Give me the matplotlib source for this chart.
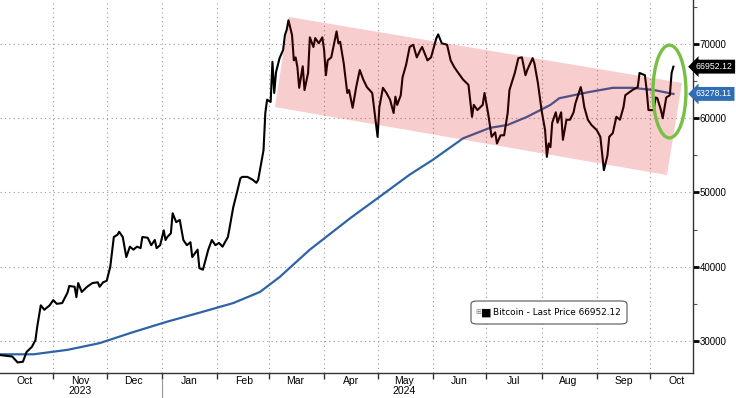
import matplotlib
matplotlib.use("Agg")
import matplotlib.pyplot as plt
import matplotlib.dates as mdates
from matplotlib.patches import Polygon, Ellipse, FancyBboxPatch
import pandas as pd

plt.rcParams['font.family'] = ['Liberation Sans', 'DejaVu Sans']

# ---- data (days counted from 2023-10-01) ----
base = pd.Timestamp("2023-10-01")

price_day = [1, 8, 11, 14, 16, 19, 21, 22, 24, 26, 29, 31, 33, 36, 39, 40, 43, 44, 45, 47,
             50, 53, 56, 57, 59, 61, 63, 65, 67, 68, 70, 72, 74, 76, 78, 80, 81, 84, 86, 88,
             89, 91, 93, 94, 95, 97, 98, 100, 102, 104, 106, 108, 109, 112, 113, 115, 116, 118, 120, 122,
             124, 126, 129, 130, 132, 134, 136, 137, 140, 143, 145, 146, 148, 149, 150, 151, 153, 154, 155, 156,
             158, 160, 161, 162, 163, 165, 166, 167, 168, 169, 171, 172, 174, 175, 177, 178, 180, 182, 183, 184,
             185, 187, 190, 191, 192, 194, 196, 197, 199, 201, 203, 205, 207, 210, 213, 214, 216, 218, 220, 222,
             223, 224, 226, 227, 229, 231, 233, 235, 237, 238, 241, 243, 246, 247, 249, 252, 254, 256, 258, 261,
             264, 266, 267, 269, 272, 273, 275, 277, 279, 280, 282, 284, 286, 287, 290, 292, 294, 296, 297, 300,
             301, 303, 305, 307, 308, 309, 310, 311, 313, 314, 316, 317, 319, 321, 323, 324, 327, 328, 329, 331,
             333, 336, 338, 340, 342, 343, 345, 347, 349, 351, 352, 356, 359, 360, 363, 364, 365, 368, 369, 370,
             372, 373, 375, 377, 378, 379]
price = [28100, 27900, 27100, 27200, 28500, 29200, 30100, 31900, 34800, 34200, 34800, 35500, 35000, 35100, 36500, 37400, 37300, 35900, 37800, 36600,
         37300, 37800, 37900, 37300, 37900, 38100, 40000, 44000, 44300, 44700, 44000, 41300, 42700, 42300, 42700, 42500, 44000, 43900, 42900, 43600,
         42500, 42900, 44900, 43600, 44000, 44500, 47200, 46000, 46300, 43600, 42900, 43300, 41300, 42300, 39800, 39600, 40500, 42300, 43600, 42900,
         43200, 42700, 44000, 45300, 48000, 49900, 51900, 52100, 52100, 51700, 51300, 51700, 54400, 55700, 60700, 62500, 62200, 67600, 63400, 66200,
         68100, 69200, 71200, 71900, 73200, 71200, 67800, 68200, 66900, 64100, 67000, 63800, 66100, 70900, 69600, 70800, 70100, 70900, 69200, 65800,
         67800, 68200, 71700, 70100, 70300, 67400, 63400, 63800, 61400, 64200, 66500, 65200, 64200, 63400, 57500, 61500, 64100, 63400, 62500, 60700,
         62900, 61800, 63100, 65500, 67200, 69600, 69900, 68200, 69200, 69600, 67800, 68200, 70800, 71300, 70100, 69900, 67800, 66900, 66200, 65200,
         64500, 60200, 61800, 61100, 61800, 63400, 60700, 57500, 58100, 56600, 57700, 57700, 60700, 63800, 66100, 68100, 68200, 65800, 66500, 68100,
         67400, 64700, 61100, 58400, 54800, 56600, 56100, 59400, 60800, 59400, 60800, 57100, 59800, 59800, 60800, 62000, 64200, 63100, 61500, 59800,
         59100, 58400, 57500, 53000, 55000, 57500, 58000, 60200, 59800, 61500, 63100, 63800, 64200, 66100, 65800, 63800, 61100, 61100, 62800, 62700,
         61100, 60000, 62800, 63100, 66100, 66952.12]

ma_day = [1, 20, 39, 57, 76, 95, 113, 132, 147, 158, 175, 198, 214, 231, 244, 261, 276, 286, 297, 310,
          315, 331, 345, 356, 368, 379]
ma = [28200, 28200, 28800, 29700, 31200, 32600, 33800, 35100, 36600, 38600, 42300, 46600, 49400, 52400, 54400, 57300, 58700, 59100, 60200, 61800,
      62700, 63500, 64100, 64100, 63800, 63278.11]

# channel corners (day, price)
band_day = [163.3, 383.8, 375.4, 155.4]
band_price = [73640, 64750, 52350, 61510]
last_price = 66952.12
last_ma = 63278.11

price_dates = base + pd.to_timedelta(price_day, unit="D")
ma_dates = base + pd.to_timedelta(ma_day, unit="D")

fig = plt.figure(figsize=(7.36, 3.98), dpi=100)
ax = fig.add_axes([0, 25 / 398, 693 / 736, 373 / 398])

ax.plot(ma_dates, ma, color='#2e64a6', lw=1.6, zorder=3)
ax.plot(price_dates, price, color='black', lw=1.5, zorder=4)

# translucent red channel laid over the lines
bx = mdates.date2num(base + pd.to_timedelta(band_day, unit="D"))
ax.add_patch(Polygon(list(zip(bx, band_price)), closed=True, fc=(0.86, 0.02, 0.02),
                     alpha=0.2, ec='none', zorder=5))

# green circle around the latest move
ex = mdates.date2num(base + pd.Timedelta(days=376.8))
ax.add_patch(Ellipse((ex, 63600), width=18.5, height=12500, fill=False,
                     ec='#78c043', lw=2.4, zorder=6))

ax.set_xlim(mdates.date2num(base + pd.Timedelta(days=1.12)), mdates.date2num(base + pd.Timedelta(days=390)))
ax.set_ylim(25680, 75930)

# axes styling
for s in ['left', 'top']:
    ax.spines[s].set_visible(False)
for s in ['right', 'bottom']:
    ax.spines[s].set_color('#333333')
    ax.spines[s].set_linewidth(1.0)

ax.yaxis.tick_right()
ax.set_yticks([30000, 40000, 50000, 60000, 70000])
ax.set_yticks([35000, 45000, 55000, 65000, 75000], minor=True)
ax.tick_params(axis='y', which='major', length=4, width=2, colors='black', labelsize=7, pad=1)
ax.tick_params(axis='y', which='minor', length=3, width=0.8, colors='#555555')

ax.xaxis.set_major_locator(mdates.MonthLocator())
ax.xaxis.set_major_formatter(plt.NullFormatter())
ax.xaxis.set_minor_locator(mdates.MonthLocator(bymonthday=16))
ax.xaxis.set_minor_formatter(mdates.DateFormatter('%b'))
ax.tick_params(axis='x', which='major', length=4, width=1, colors='#333333')
ax.tick_params(axis='x', which='minor', length=0, labelsize=7.5, pad=2)

ax.grid(True, which='major', linestyle=(0, (1, 3)), color='#9a9a9a', lw=0.8)
ax.set_axisbelow(True)

# year labels and separator
xt = ax.get_xaxis_transform()
ax.text(mdates.date2num(pd.Timestamp("2023-11-16")), -0.048, "2023", transform=xt,
        ha='center', va='center', fontsize=7.5)
ax.text(mdates.date2num(pd.Timestamp("2024-05-16")), -0.048, "2024", transform=xt,
        ha='center', va='center', fontsize=7.5)
ax.plot([mdates.date2num(pd.Timestamp("2024-01-01"))] * 2, [-0.015, -0.07], transform=xt,
        color='#999999', lw=0.8, clip_on=False)

# right-hand value tags
yt = ax.get_yaxis_transform()
for val, col in [(last_price, 'black'), (last_ma, '#2f6db5')]:
    ax.annotate(f"{val:.2f}", xy=(1, val), xycoords=yt,
                xytext=(2, 0), textcoords='offset points', ha='left', va='center',
                color='white', fontsize=6.3,
                bbox=dict(boxstyle='larrow,pad=0.28', fc=col, ec='none'))

# legend box
fig.patches.append(FancyBboxPatch((471 / 736, 74 / 398), 156 / 736, 23 / 398,
                                  boxstyle='round,pad=0,rounding_size=0.008',
                                  transform=fig.transFigure, fc='white', ec='#555555', lw=0.8))
fig.text(478 / 736, 85.5 / 398, "\u229e", fontsize=5, color='#777777', ha='center', va='center',
         family='DejaVu Sans')
fig.text(486 / 736, 85.5 / 398, "\u25a0", fontsize=8, color='black', ha='center', va='center',
         family='DejaVu Sans')
fig.text(493 / 736, 85.5 / 398, "Bitcoin - Last Price 66952.12", fontsize=6.4, ha='left',
         va='center', family='DejaVu Sans')

fig.savefig("out.png", dpi=100)
